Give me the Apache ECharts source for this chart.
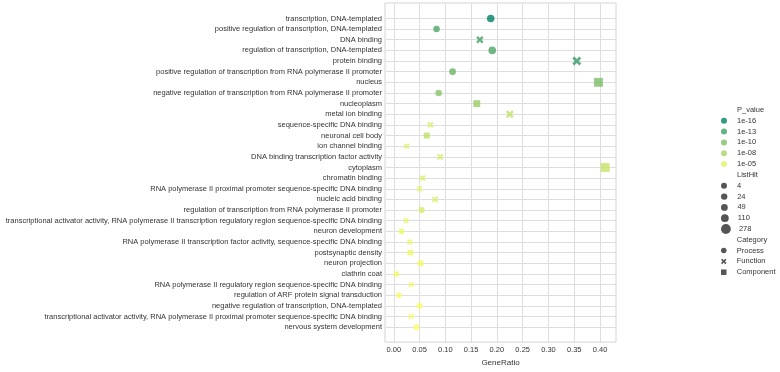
<!DOCTYPE html>
<html>
<head>
<meta charset="utf-8">
<script src="https://cdn.jsdelivr.net/npm/echarts@6/dist/echarts.min.js"></script>
<style>
html,body{margin:0;padding:0;background:#fff;}
#chart{width:780px;height:372px;}
</style>
</head>
<body>
<div id="chart"></div>
<script>
const categories = [
  'transcription, DNA-templated',
  'positive regulation of transcription, DNA-templated',
  'DNA binding',
  'regulation of transcription, DNA-templated',
  'protein binding',
  'positive regulation of transcription from RNA polymerase II promoter',
  'nucleus',
  'negative regulation of transcription from RNA polymerase II promoter',
  'nucleoplasm',
  'metal ion binding',
  'sequence-specific DNA binding',
  'neuronal cell body',
  'ion channel binding',
  'DNA binding transcription factor activity',
  'cytoplasm',
  'chromatin binding',
  'RNA polymerase II proximal promoter sequence-specific DNA binding',
  'nucleic acid binding',
  'regulation of transcription from RNA polymerase II promoter',
  'transcriptional activator activity, RNA polymerase II transcription regulatory region sequence-specific DNA binding',
  'neuron development',
  'RNA polymerase II transcription factor activity, sequence-specific DNA binding',
  'postsynaptic density',
  'neuron projection',
  'clathrin coat',
  'RNA polymerase II regulatory region sequence-specific DNA binding',
  'regulation of ARF protein signal transduction',
  'negative regulation of transcription, DNA-templated',
  'transcriptional activator activity, RNA polymerase II proximal promoter sequence-specific DNA binding',
  'nervous system development'
];
const geneRatio = [0.188,0.083,0.167,0.191,0.355,0.114,0.397,0.087,0.161,0.225,
                   0.071,0.064,0.025,0.090,0.410,0.056,0.050,0.080,0.054,0.024,
                   0.015,0.031,0.032,0.052,0.005,0.034,0.010,0.050,0.034,0.044];
const pValues = [3e-17,5e-13,1e-13,5e-13,3e-14,1.3e-11,8e-11,3e-10,2e-9,1.6e-7,
                 2.5e-6,1.3e-7,5e-6,2.5e-6,3e-7,5e-6,1e-5,3e-6,2.5e-6,1.6e-5,
                 2.5e-5,2.5e-5,2.5e-5,4e-5,5e-5,5e-5,6e-5,8e-5,8e-5,1e-4];
const listHit = [128,56,114,130,241,78,270,59,109,153,
                 48,44,17,61,278,38,34,54,37,16,
                 10,21,22,35,4,23,7,34,23,30];
const ontology = ['Process','Process','Function','Process','Function','Process','Component','Process','Component','Function',
                  'Function','Component','Function','Function','Component','Function','Function','Function','Process','Function',
                  'Process','Function','Component','Component','Component','Function','Process','Process','Function','Process'];
const xTicks = [0,0.05,0.10,0.15,0.20,0.25,0.30,0.35,0.40];
const pLegendValues = [1e-16,1e-13,1e-10,1e-8,1e-5];
const pLegendLabels = ['1e-16','1e-13','1e-10','1e-08','1e-05'];
const hitLegendValues = [4,24,49,110,278];
const categoryLegend = ['Process','Function','Component'];

const X_PATH = 'path://M0,2.2L2.2,0L5,2.8L7.8,0L10,2.2L7.2,5L10,7.8L7.8,10L5,7.2L2.2,10L0,7.8L2.8,5Z';
const SQ_PATH = 'path://M0,0L10,0L10,10L0,10Z';
const symbolOf = {Process:'circle', Function:X_PATH, Component:'rect'};
const sizeFactor = {Process:1, Function:1.0, Component:0.95};

function summer(p){
  let x = (Math.log10(p) + 16) / 12.2;
  x = Math.max(0, Math.min(1, x));
  const r = Math.round(255*x), g = Math.round(255*(0.5+0.5*x)), b = Math.round(255*0.4);
  return 'rgb(' + r + ',' + g + ',' + b + ')';
}
const hitMin = 4, hitMax = 278;
function sizeOf(hit){
  const d0 = 5.6, d1 = 9.4;
  const t = (hit - hitMin) / (hitMax - hitMin);
  return Math.sqrt(d0*d0 + (d1*d1 - d0*d0) * t);
}

const mainSeries = categoryLegend.map(function(type){
  const data = [];
  categories.forEach(function(c, i){
    if (ontology[i] !== type) return;
    data.push({
      value: [geneRatio[i], i],
      symbolSize: sizeOf(listHit[i]) * sizeFactor[type],
      itemStyle: {color: summer(pValues[i])}
    });
  });
  return {
    name: type, type: 'scatter', symbol: symbolOf[type], data: data,
    emphasis: {disabled: true}, z: 5
  };
});

const dummyNames = ['P_value'].concat(pLegendLabels, ['ListHit'], hitLegendValues.map(String), ['Category']);
const dummySeries = dummyNames.map(function(n){ return {name:n, type:'scatter', data:[]}; });

const legendText = {fontSize: 7.5, color: '#333', fontFamily: 'Liberation Sans, Arial, sans-serif', lineHeight: 10};
const transparent = {color: 'rgba(0,0,0,0)', borderWidth: 0};
const legends = [];
legends.push({
  orient:'vertical', left:716, top:100, itemWidth:16, itemHeight:6, itemGap:0.8, selectedMode:false,
  textStyle: legendText,
  data: [{name:'P_value', icon:'circle', itemStyle: transparent}].concat(
    pLegendLabels.map(function(l, i){ return {name:l, icon:'circle', itemStyle:{color: summer(pLegendValues[i])}}; }))
});
legends.push({
  orient:'vertical', left:716, top:165, itemWidth:16, itemHeight:6, itemGap:0.8, selectedMode:false,
  textStyle: legendText, data:[{name:'ListHit', icon:'circle', itemStyle: transparent}]
});
hitLegendValues.forEach(function(v, i){
  const d = sizeOf(v) + 0.4;
  legends.push({
    orient:'vertical', left:716, top: 175.8 + i*10.8 - Math.max(0, (d-10)/2), itemWidth:16, itemHeight:d, itemGap:0.8, selectedMode:false,
    textStyle: legendText, data:[{name:String(v), icon:'circle', itemStyle:{color:'#2b2b2b'}}]
  });
});
legends.push({
  orient:'vertical', left:716, top:229.8, itemWidth:16, itemHeight:5.5, itemGap:0.8, selectedMode:false,
  textStyle: legendText,
  data: [{name:'Category', icon:'circle', itemStyle: transparent},
         {name:'Process', icon:'circle', itemStyle:{color:'#2b2b2b'}},
         {name:'Function', icon: X_PATH, itemStyle:{color:'#2b2b2b'}},
         {name:'Component', icon: SQ_PATH, itemStyle:{color:'#2b2b2b'}}]
});

const gridColor = '#dedede';
const chart = echarts.init(document.getElementById('chart'), null, {renderer:'canvas'});
chart.setOption({
  animation: false,
  backgroundColor: '#fff',
  textStyle: {fontFamily: 'Liberation Sans, Arial, sans-serif'},
  grid: {left:385, right:164, top:3, bottom:24, show:true, borderColor:'#d4d4d4', borderWidth:1, containLabel:false},
  legend: legends,
  xAxis: {
    type:'value', min:-0.017, max:0.431,
    name:'GeneRatio', nameLocation:'middle', nameGap:16,
    nameTextStyle:{fontSize:8, color:'#333'},
    axisLine:{show:false},
    axisTick:{show:false, customValues: xTicks},
    axisLabel:{customValues: xTicks, fontSize:7.5, color:'#333', margin:4,
               formatter: function(v){ return v.toFixed(2); }},
    splitLine:{show:true, lineStyle:{color:gridColor, width:1}}
  },
  yAxis: {
    type:'value', inverse:true, min:-1.45, max:30.4,
    axisLine:{show:false},
    axisTick:{show:false, customValues: categories.map(function(c,i){return i;})},
    axisLabel:{customValues: categories.map(function(c,i){return i;}), fontSize:7.5, color:'#333', margin:3,
               formatter: function(v){ return categories[Math.round(v)]; }},
    splitLine:{show:true, lineStyle:{color:gridColor, width:1}}
  },
  series: mainSeries.concat(dummySeries)
});
</script>
</body>
</html>
